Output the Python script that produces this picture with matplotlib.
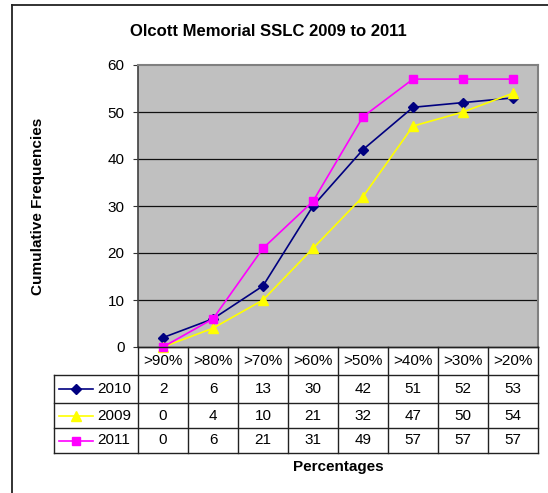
import matplotlib
matplotlib.use('Agg')
import matplotlib.pyplot as plt
from matplotlib.lines import Line2D

categories = ['>90%', '>80%', '>70%', '>60%', '>50%', '>40%', '>30%', '>20%']
series_names = ['2010', '2009', '2011']
values_2010 = [2, 6, 13, 30, 42, 51, 52, 53]
values_2009 = [0, 4, 10, 21, 32, 47, 50, 54]
values_2011 = [0, 6, 21, 31, 49, 57, 57, 57]
yticks = [0, 10, 20, 30, 40, 50, 60]

plt.rcParams['font.family'] = ['Liberation Sans', 'DejaVu Sans']

W, H = 548, 493
fig = plt.figure(figsize=(W / 100, H / 100), dpi=100)
fig.patch.set_facecolor('white')


def fx(px):
    return px / W


def fy(py):
    return 1 - py / H


# outer chart border (only top/left visible in the crop)
fig.add_artist(Line2D([fx(12), fx(12)], [fy(5), fy(H + 5)], color='#222222', lw=1.3, transform=fig.transFigure))
fig.add_artist(Line2D([fx(12), fx(W + 5)], [fy(5), fy(5)], color='#222222', lw=1.3, transform=fig.transFigure))

L, R, T, B = 138, 538, 65, 347
ax = fig.add_axes([fx(L), fy(B), (R - L) / W, (B - T) / H])
ax.set_facecolor('#C0C0C0')
xs = list(range(len(categories)))
styles = [
    (values_2010, '#000080', 'D', 5.5),
    (values_2009, '#FFFF00', '^', 7.5),
    (values_2011, '#FF00FF', 's', 6.0),
]
for vals, col, mk, ms in styles:
    ax.plot(xs, vals, color=col, marker=mk, ms=ms, lw=1.2, zorder=3, clip_on=False)

ax.set_xlim(-0.5, len(categories) - 0.5)
ax.set_ylim(0, 60)
ax.set_xticks([])
ax.set_yticks(yticks)
ax.set_yticklabels([str(v) for v in yticks], fontsize=11)
ax.tick_params(axis='y', length=3.6, width=0.8, color='#333333', pad=6)
for v in yticks[1:-1]:
    ax.axhline(v, color='#111111', lw=0.9, zorder=1)
for s in ['top', 'right']:
    ax.spines[s].set_color('#808080')
    ax.spines[s].set_linewidth(1.5)
ax.spines['left'].set_color('#404040')
ax.spines['left'].set_linewidth(1.2)
ax.spines['bottom'].set_color('#111111')
ax.spines['bottom'].set_linewidth(1.0)

# data table
rows_px = [347, 375, 403, 428, 453]
TL = 54
col_w = (R - L) / len(categories)
tc = '#222222'


def hline(x0, x1, y):
    fig.add_artist(Line2D([fx(x0), fx(x1)], [fy(y), fy(y)], color=tc, lw=1.0, transform=fig.transFigure))


def vline(x, y0, y1):
    fig.add_artist(Line2D([fx(x), fx(x)], [fy(y0), fy(y1)], color=tc, lw=1.0, transform=fig.transFigure))


hline(L, R, rows_px[0])
for y in rows_px[1:]:
    hline(TL, R, y)
vline(TL, rows_px[1], rows_px[-1])
for i in range(len(categories) + 1):
    vline(L + i * col_w, rows_px[0], rows_px[-1])

for i, c in enumerate(categories):
    fig.text(fx(L + (i + 0.5) * col_w), fy((rows_px[0] + rows_px[1]) / 2), c,
             ha='center', va='center', fontsize=11)

for r, (name, (vals, col, mk, ms)) in enumerate(zip(series_names, styles)):
    yc = (rows_px[r + 1] + rows_px[r + 2]) / 2
    fig.add_artist(Line2D([fx(59), fx(93)], [fy(yc), fy(yc)], color=col, lw=1.2, transform=fig.transFigure))
    fig.add_artist(Line2D([fx(76)], [fy(yc)], color=col, marker=mk, ms=ms, lw=0, transform=fig.transFigure))
    fig.text(fx(97), fy(yc), name, ha='left', va='center', fontsize=11)
    for i, v in enumerate(vals):
        fig.text(fx(L + (i + 0.5) * col_w), fy(yc), str(v), ha='center', va='center', fontsize=11)

fig.text(fx(268), fy(31), 'Olcott Memorial SSLC 2009 to 2011', ha='center', va='center',
         fontsize=12, fontweight='bold')
fig.text(fx(38), fy((T + B) / 2), 'Cumulative Frequencies', ha='center', va='center',
         rotation=90, fontsize=11, fontweight='bold')
fig.text(fx((L + R) / 2), fy(467), 'Percentages', ha='center', va='center',
         fontsize=11, fontweight='bold')

fig.savefig('out.png', dpi=100)
